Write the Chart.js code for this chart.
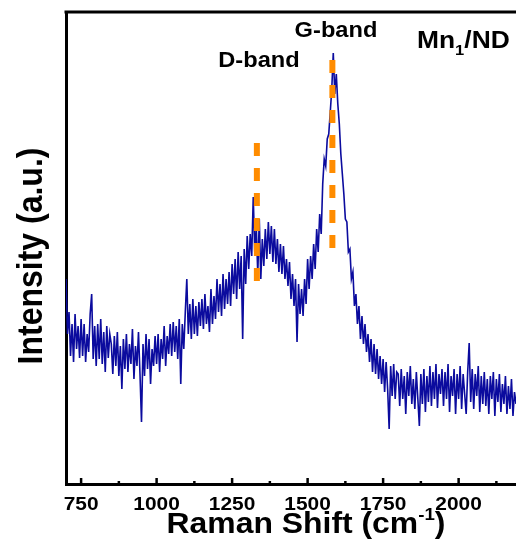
<!DOCTYPE html>
<html>
<head>
<meta charset="utf-8">
<script src="https://cdn.jsdelivr.net/npm/chart.js@4.4.1/dist/chart.umd.min.js"></script>
<style>
  html, body { margin: 0; padding: 0; background: #fff; }
  canvas { display: block; }
</style>
</head>
<body>
<canvas id="ramanChart" width="516" height="553"></canvas>
<script>
const shiftStart = 700;
const shiftStep = 5;
const intensity = [
  205, 150, 172, 128, 160, 122, 170, 135, 158, 126, // 700
  165, 128, 160, 122, 150, 132, 170, 190, 125, 158, // 750
  118, 160, 125, 165, 120, 152, 112, 158, 126, 150, // 800
  140, 110, 148, 118, 152, 108, 138, 95, 145, 115,  // 850
  150, 112, 140, 120, 155, 105, 138, 118, 152, 110, // 900
  62, 140, 108, 150, 115, 145, 100, 135, 118, 148,  // 950
  120, 150, 112, 145, 125, 158, 118, 148, 130, 160, // 1000
  128, 162, 132, 158, 125, 165, 100, 160, 135, 172, // 1050
  205, 150, 180, 145, 185, 150, 178, 148, 182, 158, // 1100
  185, 155, 190, 160, 178, 152, 195, 160, 188, 165, // 1150
  205, 172, 200, 168, 210, 175, 205, 180, 212, 178, // 1200
  220, 190, 225, 185, 232, 195, 228, 145, 235, 200, // 1250
  248, 215, 250, 228, 287, 232, 258, 210, 265, 205, // 1300
  245, 218, 255, 225, 262, 230, 258, 222, 255, 220, // 1350
  245, 212, 240, 210, 238, 205, 225, 198, 222, 185, // 1400
  210, 178, 205, 142, 200, 170, 195, 168, 205, 180, // 1450
  225, 195, 228, 205, 240, 215, 255, 232, 270, 250, // 1500
  300, 325, 318, 345, 350, 372, 395, 431, 390, 410, // 1550
  380, 360, 330, 310, 290, 265, 262, 232, 235, 205, // 1600
  212, 178, 190, 160, 178, 145, 168, 140, 160, 132, // 1650
  150, 122, 145, 112, 140, 110, 135, 105, 128, 100, // 1700
  125, 92, 122, 95, 55, 118, 88, 120, 85, 112,      // 1750
  110, 78, 115, 85, 108, 70, 112, 88, 118, 80,      // 1800
  105, 75, 112, 85, 58, 110, 80, 115, 72, 108,      // 1850
  82, 118, 78, 112, 85, 120, 76, 110, 90, 115,      // 1900
  78, 112, 85, 120, 72, 108, 88, 115, 70, 110,      // 1950
  85, 118, 75, 110, 90, 70, 112, 141, 82, 115,      // 2000
  75, 110, 88, 118, 72, 108, 80, 112, 78, 105,      // 2050
  70, 108, 85, 112, 68, 105, 82, 110, 72, 100,      // 2100
  80, 108, 70, 98, 75, 105, 68, 92, 80              // 2150
];
const shifts = intensity.map((_, i) => shiftStart + i * shiftStep);

const xMajorTicks = [750, 1000, 1250, 1500, 1750, 2000];
const xMinorTicks = [875, 1125, 1375, 1625, 1875, 2125];

// band markers: name, position (cm-1), dashed line extent in intensity units
const bandNames = ["D-band", "G-band"];
const bandShifts = [1332, 1582];
const bandLineTop = [341, 424];
const bandLineBottom = [199, 231];

const FONT = '"Liberation Sans", Arial, sans-serif';
const STRETCH = 1.1; // text in the picture is a bit wider than plain Arial

// draw pieces of text (with sub/superscripts) centred or left aligned
function drawRich(ctx, parts, x, y, align) {
  ctx.save();
  ctx.translate(x, y);
  ctx.scale(STRETCH, 1);
  let w = 0;
  parts.forEach(p => { ctx.font = p.font; w += ctx.measureText(p.text).width; });
  let cx = align === "center" ? -w / 2 : 0;
  ctx.textAlign = "left";
  ctx.textBaseline = "alphabetic";
  parts.forEach(p => {
    ctx.font = p.font;
    ctx.fillText(p.text, cx, p.dy || 0);
    cx += ctx.measureText(p.text).width;
  });
  ctx.restore();
}

const decorPlugin = {
  id: "decor",
  afterDraw(chart) {
    const { ctx, chartArea, scales } = chart;
    const xs = scales.x, ys = scales.y;
    ctx.save();
    ctx.fillStyle = "#000";
    ctx.strokeStyle = "#000";

    // top frame line
    ctx.lineWidth = 3;
    ctx.beginPath();
    ctx.moveTo(chartArea.left - 1.5, chartArea.top);
    ctx.lineTo(chartArea.right, chartArea.top);
    ctx.stroke();

    // inward tick marks
    ctx.lineWidth = 2.5;
    xMajorTicks.forEach(v => {
      const px = xs.getPixelForValue(v);
      ctx.beginPath(); ctx.moveTo(px, chartArea.bottom); ctx.lineTo(px, chartArea.bottom - 6); ctx.stroke();
    });
    xMinorTicks.forEach(v => {
      const px = xs.getPixelForValue(v);
      ctx.beginPath(); ctx.moveTo(px, chartArea.bottom); ctx.lineTo(px, chartArea.bottom - 3); ctx.stroke();
    });

    // tick labels
    xMajorTicks.forEach(v => {
      drawRich(ctx, [{ text: String(v), font: "bold 19px " + FONT }], xs.getPixelForValue(v), chartArea.bottom + 26, "center");
    });

    // axis titles
    drawRich(ctx, [
      { text: "Raman Shift (cm", font: "bold 29px " + FONT },
      { text: "-1", font: "bold 17px " + FONT, dy: -13 },
      { text: ")", font: "bold 29px " + FONT }
    ], 306, 533, "center");

    ctx.save();
    ctx.translate(42, 256);
    ctx.scale(STRETCH, 1);
    ctx.rotate(-Math.PI / 2);
    ctx.font = "bold 32px " + FONT;
    ctx.textAlign = "center";
    ctx.textBaseline = "alphabetic";
    ctx.fillText("Intensity (a.u.)", 0, 0);
    ctx.restore();

    // dashed band markers
    ctx.strokeStyle = "#FF8C00";
    ctx.lineWidth = 6;
    ctx.setLineDash([13, 12]);
    bandShifts.forEach((s, i) => {
      const px = xs.getPixelForValue(s);
      ctx.beginPath();
      ctx.moveTo(px, ys.getPixelForValue(bandLineTop[i]));
      ctx.lineTo(px, ys.getPixelForValue(bandLineBottom[i]));
      ctx.stroke();
    });
    ctx.setLineDash([]);

    // band labels
    drawRich(ctx, [{ text: bandNames[0], font: "bold 21.5px " + FONT }], 259, 67, "center");
    drawRich(ctx, [{ text: bandNames[1], font: "bold 21.5px " + FONT }], 336, 37, "center");

    // sample label
    drawRich(ctx, [
      { text: "Mn", font: "bold 24px " + FONT },
      { text: "1", font: "bold 15px " + FONT, dy: 7 },
      { text: "/ND", font: "bold 24px " + FONT }
    ], 417, 48, "left");

    ctx.restore();
  }
};

const config = {
  type: "line",
  data: {
    datasets: [{
      label: "Mn1/ND",
      data: shifts.map((s, i) => ({ x: s, y: intensity[i] })),
      borderColor: "#0B0B9E",
      borderWidth: 1.6,
      pointRadius: 0,
      tension: 0,
      fill: false,
    }],
  },
  options: {
    responsive: false,
    animation: false,
    layout: { padding: { top: 12, right: 0, left: 0, bottom: 0 } },
    plugins: {
      legend: { display: false },
      tooltip: { enabled: false },
    },
    scales: {
      x: {
        type: "linear",
        min: 700,
        max: 2190,
        grid: { display: false },
        ticks: { display: false },
        border: { display: true, color: "#000", width: 3 },
        afterFit: s => { s.height = 69; },
      },
      y: {
        min: 0,
        max: 472,
        grid: { display: false },
        ticks: { display: false },
        border: { display: true, color: "#000", width: 3 },
        afterFit: s => { s.width = 66; },
      },
    },
  },
  plugins: [decorPlugin],
};

const ramanChart = new Chart(document.getElementById("ramanChart"), config);
</script>
</body>
</html>
